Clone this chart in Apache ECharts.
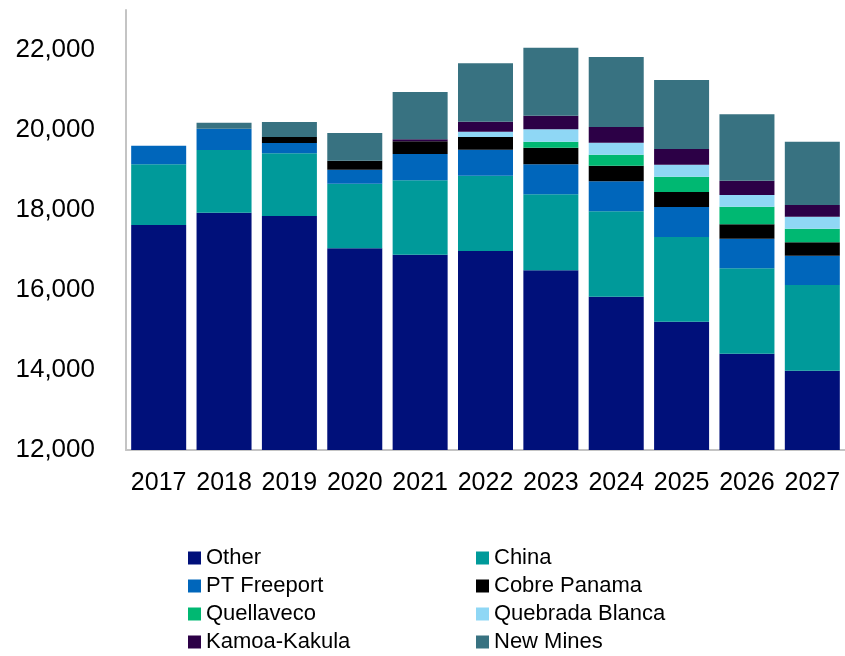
<!DOCTYPE html>
<html>
<head>
<meta charset="utf-8">
<script src="https://cdn.jsdelivr.net/npm/echarts@6/dist/echarts.min.js"></script>
<style>html,body{margin:0;padding:0;background:#fff;}#chart{width:845px;height:656px;}</style>
</head>
<body>
<div id="chart"></div>
<script>
const years = ['2017','2018','2019','2020','2021','2022','2023','2024','2025','2026','2027'];
const other      = [17625,17933,17850,17042,16883,16975,16492,15833,15208,14408,13983];
const china      = [1517,1567,1567,1616,1859,1883,1900,2134,2117,2134,2142];
const ptFreeport = [466,533,258,350,658,650,750,750,750,741,733];
const cobrePanama= [0,0,150,225,317,317,416,391,375,359,334];
const quellaveco = [0,0,0,0,0,0,150,275,383,441,341];
const quebrada   = [0,0,0,0,0,133,309,300,300,292,300];
const kamoa      = [0,0,0,0,50,250,341,392,392,358,292];
const newMines   = [0,150,375,692,1183,1459,1700,1750,1725,1659,1583];
const yTicks = [12000,14000,16000,18000,20000,22000];

const seriesDefs = [
  ['Other', other, '#00107A'],
  ['China', china, '#009A9A'],
  ['PT Freeport', ptFreeport, '#0066BB'],
  ['Cobre Panama', cobrePanama, '#000000'],
  ['Quellaveco', quellaveco, '#00B872'],
  ['Quebrada Blanca', quebrada, '#8FD7F5'],
  ['Kamoa-Kakula', kamoa, '#2C0046'],
  ['New Mines', newMines, '#387281']
];

const chart = echarts.init(document.getElementById('chart'), null, {renderer:'canvas'});
const font = '"Liberation Sans", Arial, sans-serif';
const legendText = {fontFamily: font, fontSize: 22, color: '#000', lineHeight: 28};
const legendBase = {orient: 'vertical', top: 544, padding: 0, itemWidth: 13, itemHeight: 13,
  itemGap: 0, icon: 'rect', textStyle: legendText, height: 120};
chart.setOption({
  animation: false,
  backgroundColor: '#fff',
  grid: {left: 126, top: 10, width: 722, height: 440, containLabel: false},
  legend: [
    Object.assign({}, legendBase, {left: 188, data: ['Other','PT Freeport','Quellaveco','Kamoa-Kakula']}),
    Object.assign({}, legendBase, {left: 476, data: ['China','Cobre Panama','Quebrada Blanca','New Mines']})
  ],
  xAxis: {
    type: 'category', data: years,
    axisLine: {show: true, lineStyle: {color: '#C4C4C4', width: 2}},
    axisTick: {show: false},
    axisLabel: {fontFamily: font, fontSize: 25, color: '#000', margin: 21, interval: 0}
  },
  yAxis: {
    type: 'value', min: 12000, max: 23000, interval: 2000,
    axisLine: {show: true, lineStyle: {color: '#C4C4C4', width: 2}},
    axisTick: {show: false},
    splitLine: {show: false},
    axisLabel: {fontFamily: font, fontSize: 26, color: '#000', margin: 31,
      formatter: v => yTicks.includes(v) ? v.toLocaleString('en-US') : ''}
  },
  series: seriesDefs.map(([name, data, color]) => ({
    name, type: 'bar', stack: 'total', data, barWidth: 55,
    itemStyle: {color}
  }))
});
</script>
</body>
</html>
